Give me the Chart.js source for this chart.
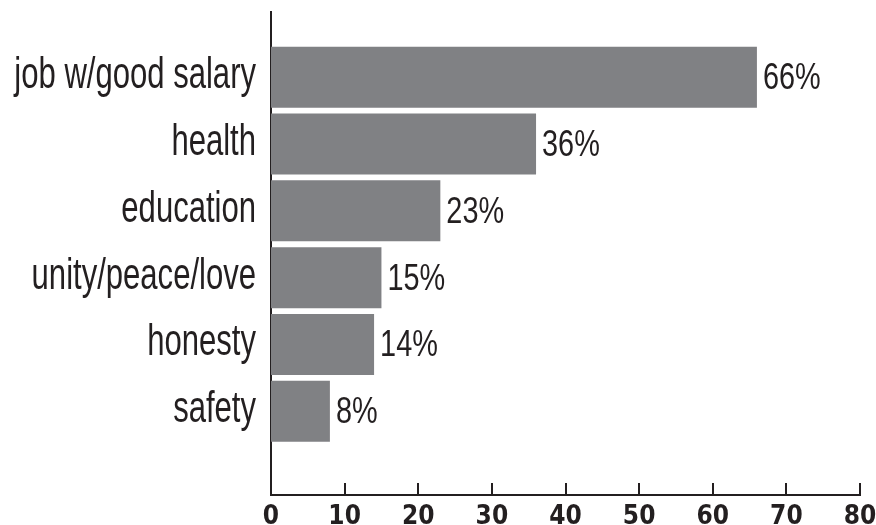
<!DOCTYPE html>
<html>
<head>
<meta charset="utf-8">
<script src="https://cdn.jsdelivr.net/npm/chart.js@4/dist/chart.umd.min.js"></script>
<style>
  html, body { margin: 0; padding: 0; background: #fff; }
  #wrap { width: 876px; height: 525px; position: relative; }
</style>
</head>
<body>
<div id="wrap"><canvas id="chart"></canvas></div>
<script>
// --- data ---
const categories = ['job w/good salary', 'health', 'education', 'unity/peace/love', 'honesty', 'safety'];
const percents = [66, 36, 23, 15, 14, 8];
const xTicks = [0, 10, 20, 30, 40, 50, 60, 70, 80];

const ink = '#231f20';
const barGray = '#808184';

// condensed text: the original face is a narrow grotesque, so squeeze Liberation Sans
function narrowText(ctx, text, x, y, size, squeeze, align) {
    ctx.save();
    ctx.font = size + 'px "Liberation Sans", Arial, sans-serif';
    ctx.textBaseline = 'alphabetic';
    ctx.textAlign = align;
    ctx.translate(x, y);
    ctx.scale(squeeze, 1);
    ctx.fillText(text, 0, 0);
    ctx.restore();
}

// category names, value labels and short inward tick marks on the x axis
const extras = {
    id: 'extras',
    afterDatasetsDraw(chart) {
        const ctx = chart.ctx;
        const meta = chart.getDatasetMeta(0);
        const ys = chart.scales.y;
        ctx.save();
        ctx.fillStyle = ink;
        categories.forEach((c, i) => {
            narrowText(ctx, c, ys.right - 15, ys.getPixelForValue(i) + 11, 45, 0.69, 'right');
        });
        meta.data.forEach((bar, i) => {
            narrowText(ctx, percents[i] + '%', bar.x + 6, bar.y + 12, 37, 0.78, 'left');
        });

        const xs = chart.scales.x;
        const bottom = chart.chartArea.bottom;
        ctx.strokeStyle = ink;
        ctx.lineWidth = 2;
        xTicks.forEach(v => {
            if (v === 0) return;
            const px = Math.round(xs.getPixelForValue(v));
            ctx.beginPath();
            ctx.moveTo(px, bottom - 12);
            ctx.lineTo(px, bottom);
            ctx.stroke();
        });
        ctx.restore();
    }
};

new Chart(document.getElementById('chart'), {
    type: 'bar',
    data: {
        datasets: [{
            data: percents.map((v, i) => ({ x: v, y: i })),
            backgroundColor: barGray,
            borderWidth: 0,
            categoryPercentage: 1,
            barPercentage: 0.913
        }]
    },
    options: {
        indexAxis: 'y',
        responsive: true,
        maintainAspectRatio: false,
        animation: false,
        layout: { padding: { top: 12, right: 16, left: 0, bottom: 0 } },
        plugins: { legend: { display: false }, tooltip: { enabled: false } },
        scales: {
            x: {
                type: 'linear',
                min: 0,
                max: 80,
                offset: false,
                afterBuildTicks: (scale) => { scale.ticks = xTicks.map(v => ({ value: v })); },
                grid: { display: false },
                border: { display: true, color: ink, width: 2 },
                ticks: {
                    color: ink,
                    padding: 1,
                    maxRotation: 0,
                    font: { family: '"DejaVu Sans Condensed", sans-serif', size: 26, weight: 'bold', lineHeight: 1 }
                },
                afterFit: (scale) => {
                    scale.height = 30;
                    scale.paddingLeft = 0;
                    scale.paddingRight = 0;
                }
            },
            y: {
                type: 'linear',
                reverse: true,
                min: -0.976,
                max: 6.253,
                offset: false,
                grid: { display: false },
                border: { display: true, color: ink, width: 2 },
                afterBuildTicks: (scale) => { scale.ticks = categories.map((c, i) => ({ value: i })); },
                ticks: { display: false },
                afterFit: (scale) => {
                    scale.width = 271;
                    scale.paddingTop = 0;
                    scale.paddingBottom = 0;
                }
            }
        }
    },
    plugins: [extras]
});
</script>
</body>
</html>
